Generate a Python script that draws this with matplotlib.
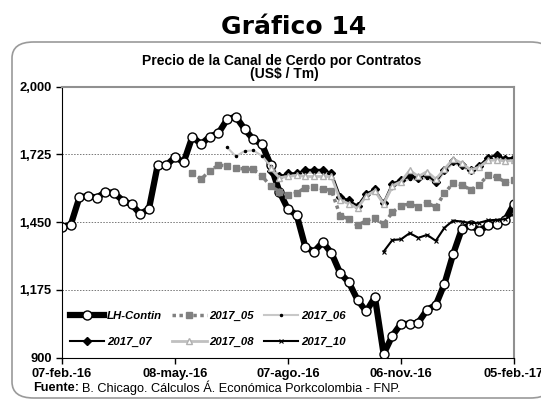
import numpy as np
import pandas as pd
import matplotlib
matplotlib.use("Agg")
import matplotlib.pyplot as plt
from matplotlib.patches import FancyBboxPatch

plt.rcParams['font.family'] = ['Liberation Sans', 'DejaVu Sans']

# Datos semanales (US$ / Tm)
fecha_inicio = '2016-02-07'
lh_contin = [1431, 1438, 1550, 1556, 1549, 1572, 1568, 1537, 1522, 1483,
             1503, 1680, 1680, 1714, 1693, 1797, 1766, 1797, 1811, 1867,
             1878, 1828, 1786, 1766, 1682, 1574, 1502, 1479, 1348, 1330,
             1368, 1324, 1243, 1205, 1134, 1087, 1145, 914, 988, 1037,
             1036, 1042, 1094, 1113, 1199, 1320, 1422, 1439, 1414, 1436,
             1443, 1459, 1523]

inicio_05 = '2016-05-22'
c2017_05 = [1650, 1624, 1658, 1681, 1678, 1668, 1666, 1664, 1637, 1596,
            1574, 1561, 1568, 1590, 1592, 1585, 1578, 1476, 1462, 1436,
            1456, 1466, 1441, 1489, 1516, 1524, 1510, 1529, 1510, 1567,
            1608, 1601, 1581, 1601, 1641, 1633, 1612, 1621]

inicio_06 = '2016-06-19'
c2017_06 = [1753, 1717, 1738, 1741, 1719, 1677, 1640, 1640, 1645, 1650,
            1650, 1650, 1640, 1545, 1530, 1510, 1558, 1575, 1522, 1590,
            1610, 1625, 1620, 1630, 1605, 1655, 1690, 1675, 1655, 1668,
            1700, 1710, 1700, 1705]

inicio_07 = '2016-07-24'
c2017_07 = [1659, 1635, 1648, 1648, 1662, 1662, 1662, 1650, 1553, 1538,
            1516, 1565, 1583, 1528, 1606, 1621, 1635, 1630, 1641, 1612,
            1663, 1696, 1680, 1662, 1678, 1712, 1722, 1708, 1711]

inicio_08 = '2016-07-24'
c2017_08 = [1668, 1630, 1635, 1640, 1635, 1635, 1635, 1635, 1540, 1524,
            1506, 1556, 1577, 1524, 1597, 1614, 1660, 1635, 1655, 1624,
            1665, 1706, 1689, 1662, 1673, 1700, 1702, 1698, 1700]

inicio_10 = '2016-10-23'
c2017_10 = [1330, 1377, 1380, 1405, 1386, 1398, 1374, 1427, 1456, 1452,
            1446, 1447, 1457, 1459, 1462, 1483]

ticks_x = ['2016-02-07', '2016-05-08', '2016-08-07', '2016-11-06', '2017-02-05']
etiquetas_x = ['07-feb.-16', '08-may.-16', '07-ago.-16', '06-nov.-16', '05-feb.-17']
ticks_y = [900, 1175, 1450, 1725, 2000]


def fechas(inicio, valores):
    return pd.date_range(inicio, periods=len(valores), freq='7D')


W, H = 541, 403
fig = plt.figure(figsize=(W / 100, H / 100), dpi=100)

# Marco redondeado
marco = FancyBboxPatch((12 / W, 1 - 398 / H), 540 / W, 356 / H,
                       boxstyle="round,pad=0,rounding_size=0.04",
                       transform=fig.transFigure, facecolor='white',
                       edgecolor='#9a9a9a', linewidth=1.2, zorder=-10)
fig.patches.append(marco)

fig.text(294 / W, 1 - 34 / H, 'Gráfico 14', ha='center', va='baseline',
         fontsize=18, fontweight='bold', family=['DejaVu Sans'])
fig.text(282 / W, 1 - 65 / H, 'Precio de la Canal de Cerdo por Contratos',
         ha='center', va='baseline', fontsize=10, fontweight='bold')
fig.text(284 / W, 1 - 78 / H, '(US$ / Tm)', ha='center', va='baseline',
         fontsize=10, fontweight='bold')

ax = fig.add_axes([62 / W, 1 - 357.5 / H, 452 / W, 270.9 / H])
ax.patch.set_alpha(0)

ax.plot(fechas(fecha_inicio, lh_contin), lh_contin, color='black', lw=4.5,
        marker='o', ms=6.5, mfc='white', mec='black', mew=1, label='LH-Contin')
ax.plot(fechas(inicio_05, c2017_05), c2017_05, color='#808080', lw=2.5,
        ls=(0, (1, 1)), marker='s', ms=4.5, mfc='#808080', mec='#808080',
        label='2017_05')
ax.plot(fechas(inicio_06, c2017_06), c2017_06, color='#c8c8c8', lw=1.5,
        marker='.', ms=3, mfc='black', mec='black', label='2017_06')
ax.plot(fechas(inicio_07, c2017_07), c2017_07, color='black', lw=1.5,
        marker='D', ms=4, mfc='black', mec='black', label='2017_07')
ax.plot(fechas(inicio_08, c2017_08), c2017_08, color='#c0c0c0', lw=2,
        marker='^', ms=4.5, mfc='white', mec='#b0b0b0', label='2017_08')
ax.plot(fechas(inicio_10, c2017_10), c2017_10, color='black', lw=1.5,
        marker='x', ms=3, mew=0.8, label='2017_10')

ax.set_xlim(pd.Timestamp(ticks_x[0]), pd.Timestamp(ticks_x[-1]))
ax.set_ylim(900, 2000)
ax.set_xticks([pd.Timestamp(t) for t in ticks_x])
ax.set_xticklabels(etiquetas_x, fontsize=9.3, fontweight='bold')
ax.set_yticks(ticks_y)
ax.set_yticklabels([f'{v:,}' for v in ticks_y], fontsize=9.3, fontweight='bold')
ax.tick_params(axis='both', direction='out', length=4, width=1, pad=3.5)

for v in ticks_y[1:-1]:
    ax.axhline(v, color='#777777', lw=0.7, ls=(0, (1.5, 1.5)), zorder=0)

ax.spines['left'].set_color('black')
ax.spines['bottom'].set_color('black')
ax.spines['top'].set_color('#909090')
ax.spines['right'].set_color('#909090')
ax.spines['top'].set_linewidth(1.5)
ax.spines['right'].set_linewidth(1.5)

# leyenda por filas: LH, 05, 06 / 07, 08, 10
handles, labels = ax.get_legend_handles_labels()
orden = [0, 3, 1, 4, 2, 5]
leg = ax.legend([handles[i] for i in orden], [labels[i] for i in orden],
                ncol=3, loc='lower left', bbox_to_anchor=(-0.005, 0.0),
                frameon=False, handlelength=3.0, handletextpad=0.25,
                columnspacing=0.9, labelspacing=1.4,
                prop={'size': 8.2, 'weight': 'bold', 'style': 'italic'})

# Fuente: parte en negrita y resto normal
t1 = fig.text(33 / W, 1 - 388 / H, 'Fuente:', ha='left', va='center',
              fontsize=9.2, fontweight='bold')
renderer = fig.canvas.get_renderer()
bb = t1.get_window_extent(renderer=renderer)
fig.text((bb.x1 + 3) / W, 1 - 388 / H,
         'B. Chicago. Cálculos Á. Económica Porkcolombia - FNP.',
         ha='left', va='center', fontsize=9.2)

fig.savefig('out.png', dpi=100)
